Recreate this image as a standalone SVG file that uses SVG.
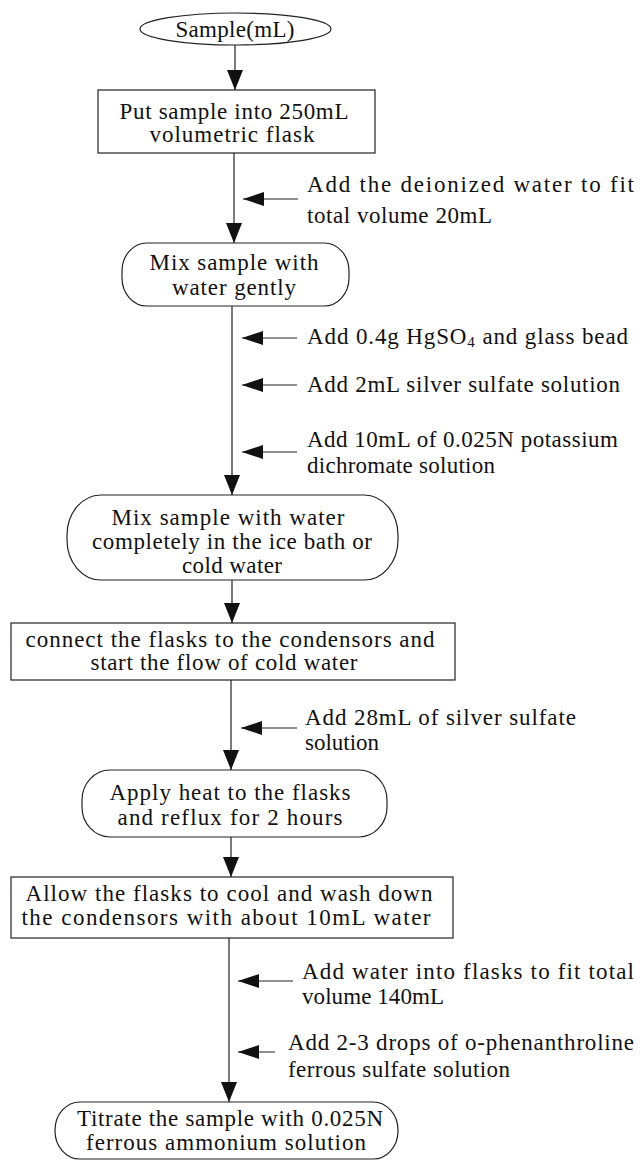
<svg xmlns="http://www.w3.org/2000/svg" width="643" height="1160" viewBox="0 0 643 1160">
<defs>
<style>
text{font-family:"Liberation Serif","Times New Roman",serif;font-size:23px;fill:#111}
.n{text-anchor:middle}
.shape{fill:#fff;stroke:#222;stroke-width:1.2}
.c{stroke:#222;stroke-width:1.2;fill:none}
</style>
<marker id="ah" markerWidth="20" markerHeight="16" refX="20" refY="8" orient="auto" markerUnits="userSpaceOnUse"><path d="M0,0 L20,8 L0,16 z" fill="#111"/></marker>
<marker id="sa" markerWidth="21" markerHeight="14" refX="21" refY="7" orient="auto" markerUnits="userSpaceOnUse"><path d="M0,0 L21,7 L0,14 z" fill="#111"/></marker>
</defs>
<rect width="643" height="1160" fill="#fff"/>

<g id="connectors">
<line class="c" x1="235" y1="45" x2="235" y2="90" marker-end="url(#ah)"/>
<line class="c" x1="234" y1="153" x2="234" y2="243" marker-end="url(#ah)"/>
<line class="c" x1="232" y1="306" x2="232" y2="495" marker-end="url(#ah)"/>
<line class="c" x1="232" y1="580" x2="232" y2="623" marker-end="url(#ah)"/>
<line class="c" x1="231" y1="680" x2="231" y2="770" marker-end="url(#ah)"/>
<line class="c" x1="231" y1="837" x2="231" y2="877" marker-end="url(#ah)"/>
<line class="c" x1="229" y1="938" x2="229" y2="1102" marker-end="url(#ah)"/>
<line class="c" x1="298" y1="199" x2="243" y2="199" marker-end="url(#sa)"/>
<line class="c" x1="297" y1="338" x2="242" y2="338" marker-end="url(#sa)"/>
<line class="c" x1="297" y1="385" x2="242" y2="385" marker-end="url(#sa)"/>
<line class="c" x1="297" y1="452" x2="242" y2="452" marker-end="url(#sa)"/>
<line class="c" x1="297" y1="728" x2="241" y2="728" marker-end="url(#sa)"/>
<line class="c" x1="293" y1="981" x2="238" y2="981" marker-end="url(#sa)"/>
<line class="c" x1="275" y1="1052" x2="238" y2="1052" marker-end="url(#sa)"/>
</g>

<g id="sample">
<ellipse class="shape" cx="235.5" cy="29" rx="95.5" ry="16"/>
<text class="n" x="235" y="37" textLength="119">Sample(mL)</text>
</g>

<g id="put-sample">
<rect class="shape" x="98" y="90" width="277" height="63"/>
<text class="n" x="234" y="119" textLength="229">Put sample into 250mL</text>
<text class="n" x="232" y="142" textLength="165">volumetric flask</text>
</g>

<g id="add-deionized">
<text x="307" y="192" textLength="327">Add the deionized water to fit</text>
<text x="307" y="223" textLength="185">total volume 20mL</text>
</g>

<g id="mix-gently">
<rect class="shape" x="122" y="243" width="227" height="63" rx="25" ry="28"/>
<text class="n" x="234" y="270" textLength="169">Mix sample with</text>
<text class="n" x="234" y="295" textLength="124">water gently</text>
</g>

<g id="add-hgso4">
<text x="307" y="344" textLength="321">Add 0.4g HgSO<tspan font-size="15" dy="3">4</tspan><tspan dy="-3"> and glass bead</tspan></text>
</g>

<g id="add-silver-2ml">
<text x="307" y="392" textLength="313">Add 2mL silver sulfate solution</text>
</g>

<g id="add-dichromate">
<text x="307" y="447" textLength="311">Add 10mL of 0.025N potassium</text>
<text x="307" y="473" textLength="188">dichromate solution</text>
</g>

<g id="mix-completely">
<rect class="shape" x="67" y="495" width="331" height="85" rx="34" ry="40"/>
<text class="n" x="228" y="525" textLength="233">Mix sample with water</text>
<text class="n" x="232" y="549" textLength="280">completely in the ice bath or</text>
<text class="n" x="232" y="573" textLength="100">cold water</text>
</g>

<g id="connect-flasks">
<rect class="shape" x="11" y="623" width="444" height="57"/>
<text class="n" x="230" y="647" textLength="409">connect the flasks to the condensors and</text>
<text class="n" x="224" y="670" textLength="267">start the flow of cold water</text>
</g>

<g id="add-silver-28ml">
<text x="305" y="725" textLength="271">Add 28mL of silver sulfate</text>
<text x="305" y="750" textLength="74">solution</text>
</g>

<g id="apply-heat">
<rect class="shape" x="82" y="770" width="305" height="67" rx="28" ry="30"/>
<text class="n" x="230" y="800" textLength="241">Apply heat to the flasks</text>
<text class="n" x="230" y="825" textLength="225">and reflux for 2 hours</text>
</g>

<g id="allow-cool">
<rect class="shape" x="11" y="877" width="442" height="61"/>
<text class="n" x="229" y="901" textLength="407">Allow the flasks to cool and wash down</text>
<text class="n" x="226" y="925" textLength="409">the condensors with about 10mL water</text>
</g>

<g id="add-water">
<text x="302" y="979" textLength="332">Add water into flasks to fit total</text>
<text x="302" y="1004" textLength="142">volume 140mL</text>
</g>

<g id="add-phenanthroline">
<text x="288" y="1050" textLength="346">Add 2-3 drops of o-phenanthroline</text>
<text x="288" y="1077" textLength="222">ferrous sulfate solution</text>
</g>

<g id="titrate">
<rect class="shape" x="55" y="1102" width="343" height="57" rx="25" ry="28"/>
<text class="n" x="230" y="1126" textLength="306">Titrate the sample with 0.025N</text>
<text class="n" x="226" y="1150" textLength="280">ferrous ammonium solution</text>
</g>
</svg>
